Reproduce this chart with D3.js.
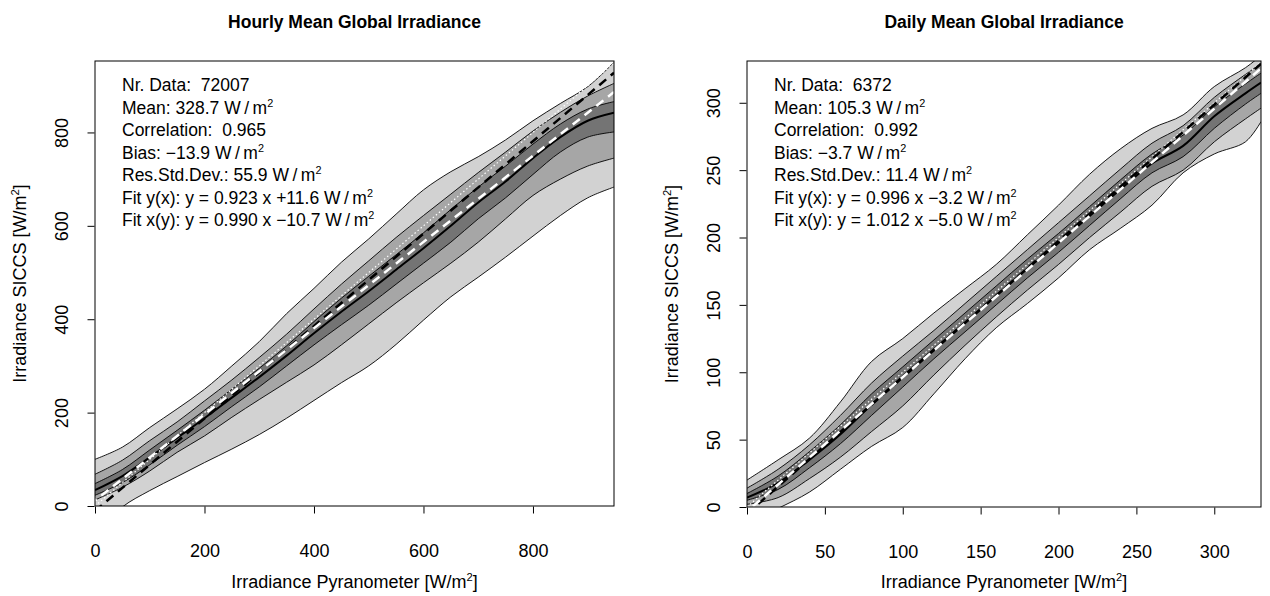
<!DOCTYPE html>
<html>
<head>
<meta charset="utf-8">
<script src="https://cdn.jsdelivr.net/npm/d3@7"></script>
<style>
  body { margin: 0; background: #fff; }
  svg { display: block; font-family: "Liberation Sans", Arial, Helvetica, sans-serif; }
  svg text { white-space: pre; }
</style>
</head>
<body>
<div id="chart"></div>
<script>
// ---- hourly panel: contour bands (W/m2) ----
const hourX         = [0, 50, 100, 150, 200, 250, 300, 350, 400, 450, 500, 550, 600, 650, 700, 750, 800, 850, 900, 948];
const hourOuterUp   = [100, 126, 168, 208, 250, 300, 352, 412, 466, 522, 572, 625, 677, 716, 748, 784, 825, 862, 898, 950];
const hourOuterLow  = [-60, -2, 33, 63, 93, 122, 153, 188, 226, 264, 300, 346, 398, 448, 490, 533, 578, 622, 660, 683];
const hourMedUp     = [68, 98, 140, 180, 225, 270, 318, 368, 422, 475, 525, 575, 622, 668, 714, 758, 803, 843, 878, 905];
const hourMedLow    = [13, 40, 75, 115, 150, 190, 228, 265, 302, 345, 390, 435, 478, 520, 565, 615, 665, 700, 728, 745];
const hourDarkUp    = [48, 78, 120, 162, 205, 250, 295, 343, 395, 445, 492, 538, 585, 635, 683, 728, 775, 818, 850, 866];
const hourDarkLow   = [23, 50, 88, 130, 170, 213, 255, 300, 345, 388, 430, 475, 520, 565, 615, 660, 710, 758, 790, 801];
const hourRidge     = [34, 64, 104, 146, 188, 232, 276, 322, 370, 416, 460, 506, 552, 600, 650, 695, 745, 790, 825, 842];
const hourTicks     = [0, 200, 400, 600, 800];
const hourFitYX     = [0.923, 11.6];
const hourFitXY     = [0.990, -10.7];
const hourStats     = ["Nr. Data:  72007", "Mean: 328.7 W\u2009/\u2009m", "Correlation:  0.965", "Bias: \u221213.9 W\u2009/\u2009m",
                       "Res.Std.Dev.: 55.9 W\u2009/\u2009m", "Fit y(x): y = 0.923 x +11.6 W\u2009/\u2009m", "Fit x(y): y = 0.990 x \u221210.7 W\u2009/\u2009m"];

// ---- daily panel ----
const dayX          = [0, 20, 40, 60, 80, 100, 120, 140, 160, 180, 200, 220, 240, 260, 280, 300, 320, 330];
const dayOuterUp    = [20, 35, 51, 78, 108, 125, 144, 162, 180, 202, 224, 247, 266, 281, 291, 312, 326, 335];
const dayOuterLow   = [-12, -1, 11, 28, 45, 59, 84, 110, 133, 151, 170, 191, 207, 224, 248, 262, 271, 286];
const dayMedUp      = [14, 28, 46, 68, 92, 112, 131, 151, 171, 191, 211, 231, 251, 270, 283, 304, 321, 329];
const dayMedLow     = [2, 7, 21, 37, 56, 75, 98, 120, 141, 161, 180, 200, 219, 238, 250, 271, 288, 296];
const dayDarkUp     = [10, 23, 41, 61, 84, 104, 124, 144, 164, 184, 203, 223, 243, 262, 276, 297, 314, 322];
const dayDarkLow    = [5, 13, 29, 47, 68, 89, 110, 130, 150, 170, 189, 209, 229, 248, 260, 281, 299, 307];
const dayRidge      = [7, 18, 35, 54, 76, 97, 117, 137, 157, 177, 196, 216, 236, 255, 268, 290, 307, 315];
const dayTicks      = [0, 50, 100, 150, 200, 250, 300];
const dayFitYX      = [0.996, -3.2];
const dayFitXY      = [1.012, -5.0];
const dayStats      = ["Nr. Data:  6372", "Mean: 105.3 W\u2009/\u2009m", "Correlation:  0.992", "Bias: \u22123.7 W\u2009/\u2009m",
                       "Res.Std.Dev.: 11.4 W\u2009/\u2009m", "Fit y(x): y = 0.996 x \u22123.2 W\u2009/\u2009m", "Fit x(y): y = 1.012 x \u22125.0 W\u2009/\u2009m"];

const bandColors = ["#d2d2d2", "#a6a6a6", "#747474"];

const svg = d3.select("#chart").append("svg")
    .attr("width", 1270)
    .attr("height", 596);

function drawPanel(p) {
    let x = d3.scaleLinear().domain([0, p.xmax]).range([p.left, p.right]);
    let y = d3.scaleLinear().domain([0, p.ymax]).range([p.bottom, p.top]);

    let clipId = "clip-" + p.id;
    svg.append("clipPath").attr("id", clipId)
        .append("rect")
        .attr("x", p.left).attr("y", p.top)
        .attr("width", p.right - p.left).attr("height", p.bottom - p.top);

    let g = svg.append("g").attr("clip-path", "url(#" + clipId + ")");

    let rows = p.xs.map((d, i) => ({x: d, i: i}));
    let curve = d3.curveCatmullRom.alpha(0.5);

    // filled bands, outer first
    p.bands.forEach((b, k) => {
        let area = d3.area()
            .x(d => x(d.x))
            .y0(d => y(b.low[d.i]))
            .y1(d => y(b.up[d.i]))
            .curve(curve);
        g.append("path").attr("d", area(rows)).attr("fill", bandColors[k]);
    });

    // contour lines
    p.bands.forEach(b => {
        [b.up, b.low].forEach(arr => {
            let line = d3.line().x(d => x(d.x)).y(d => y(arr[d.i])).curve(curve);
            g.append("path").attr("d", line(rows))
                .attr("fill", "none").attr("stroke", "#000").attr("stroke-width", 0.9);
        });
    });

    // density ridge
    let ridge = d3.line().x(d => x(d.x)).y(d => y(p.ridge[d.i])).curve(curve);
    g.append("path").attr("d", ridge(rows))
        .attr("fill", "none").attr("stroke", "#000").attr("stroke-width", 2);

    // 1:1 line and the two fits
    let ends = [0, p.xmax];
    let straight = (a, b) => d3.line().x(v => x(v)).y(v => y(a * v + b))(ends);
    g.append("path").attr("d", straight(1, 0))
        .attr("fill", "none").attr("stroke", "#fff").attr("stroke-width", 1.2)
        .attr("stroke-dasharray", "1.5,2.5");
    g.append("path").attr("d", straight(p.fitXY[0], p.fitXY[1]))
        .attr("fill", "none").attr("stroke", "#000").attr("stroke-width", 2.5)
        .attr("stroke-dasharray", "9,6");
    g.append("path").attr("d", straight(p.fitYX[0], p.fitYX[1]))
        .attr("fill", "none").attr("stroke", "#fff").attr("stroke-width", 2.5)
        .attr("stroke-dasharray", "9,6").attr("stroke-dashoffset", 7);

    // box
    svg.append("rect")
        .attr("x", p.left).attr("y", p.top)
        .attr("width", p.right - p.left).attr("height", p.bottom - p.top)
        .attr("fill", "none").attr("stroke", "#000").attr("stroke-width", 1);

    // axes
    let xAxis = d3.axisBottom(x).tickValues(p.ticks).tickSize(7).tickSizeOuter(0).tickPadding(28);
    let ax = svg.append("g").attr("transform", "translate(0," + (p.bottom + 0.5) + ")").call(xAxis);
    ax.select(".domain").remove();
    ax.selectAll("text").attr("font-size", 18).attr("font-family", null).attr("fill", "#000")
        .attr("dy", "0.32em").attr("y", 45);

    let yAxis = d3.axisLeft(y).tickValues(p.ticks).tickSize(7).tickSizeOuter(0).tickPadding(0);
    let ay = svg.append("g").attr("transform", "translate(" + (p.left - 0.5) + ",0)").call(yAxis);
    ay.select(".domain").remove();
    ay.selectAll("text")
        .attr("font-size", 18).attr("font-family", null).attr("fill", "#000")
        .attr("x", null).attr("dy", null)
        .attr("text-anchor", "middle")
        .attr("transform", "translate(-33,0) rotate(-90)")
        .attr("dominant-baseline", "central");

    // title
    let cx = (p.left + p.right) / 2;
    svg.append("text").attr("x", cx).attr("y", 28)
        .attr("text-anchor", "middle").attr("font-size", 17.5).attr("font-weight", "bold")
        .text(p.title);

    // axis titles
    let xt = svg.append("text").attr("x", cx).attr("y", 588)
        .attr("text-anchor", "middle").attr("font-size", 18);
    addUnit(xt, "Irradiance Pyranometer [W/m", "]");

    let cy = (p.top + p.bottom) / 2;
    let yt = svg.append("text")
        .attr("transform", "translate(" + (p.left - 69) + "," + cy + ") rotate(-90)")
        .attr("text-anchor", "middle").attr("font-size", 18);
    addUnit(yt, "Irradiance SICCS [W/m", "]");

    // statistics block
    p.stats.forEach((s, i) => {
        let t = svg.append("text")
            .attr("x", p.left + 27).attr("y", 91 + i * 22.5)
            .attr("font-size", 17.5);
        if (s.endsWith("m")) addUnit(t, s, "");
        else t.text(s);
    });
}

function addUnit(t, main, tail) {
    t.append("tspan").text(main);
    t.append("tspan").attr("dy", -7).attr("font-size", "0.62em").text("2");
    if (tail) t.append("tspan").attr("dy", 7).text(tail);
}

drawPanel({
    id: "hour", title: "Hourly Mean Global Irradiance",
    left: 95, right: 614, top: 61, bottom: 506, xmax: 948, ymax: 953,
    xs: hourX, ticks: hourTicks, ridge: hourRidge,
    bands: [
        {up: hourOuterUp, low: hourOuterLow},
        {up: hourMedUp, low: hourMedLow},
        {up: hourDarkUp, low: hourDarkLow}
    ],
    fitYX: hourFitYX, fitXY: hourFitXY, stats: hourStats
});

drawPanel({
    id: "day", title: "Daily Mean Global Irradiance",
    left: 747, right: 1261, top: 61, bottom: 507, xmax: 330, ymax: 331,
    xs: dayX, ticks: dayTicks, ridge: dayRidge,
    bands: [
        {up: dayOuterUp, low: dayOuterLow},
        {up: dayMedUp, low: dayMedLow},
        {up: dayDarkUp, low: dayDarkLow}
    ],
    fitYX: dayFitYX, fitXY: dayFitXY, stats: dayStats
});
</script>
</body>
</html>
